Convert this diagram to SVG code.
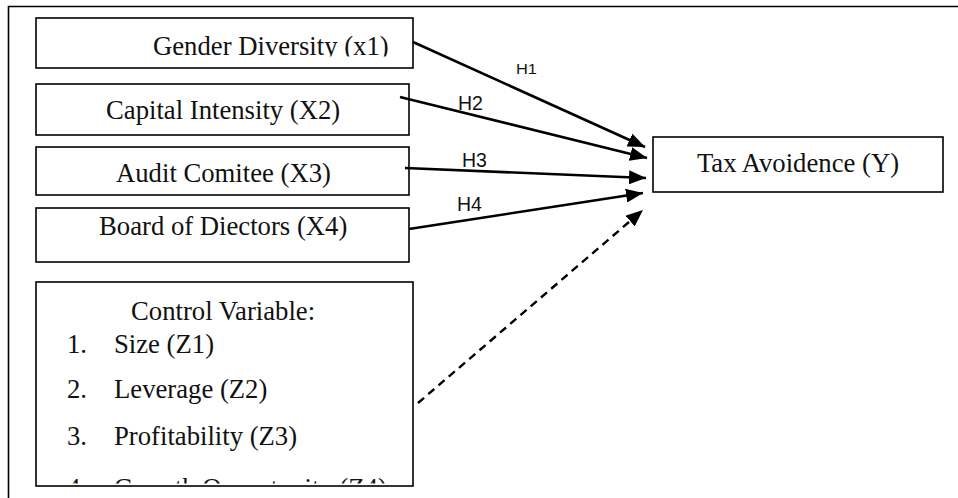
<svg xmlns="http://www.w3.org/2000/svg" width="958" height="498" viewBox="0 0 958 498">
<style>
.box{fill:#fff;stroke:#000;stroke-width:1.6}
.t{font-family:"Liberation Serif","Times New Roman",serif;font-size:26.7px;fill:#111}
.h{font-family:"Liberation Sans",Arial,sans-serif;font-size:19.5px;fill:#111}
.c{stroke:#000;stroke-width:2.6;fill:none}
.d{stroke:#000;stroke-width:2.4;fill:none;stroke-dasharray:8 5.5}
.frame{stroke:#000;stroke-width:1.6;fill:none}
</style>
<defs>
<marker id="ah" markerUnits="userSpaceOnUse" markerWidth="18" markerHeight="14" refX="17" refY="7" orient="auto">
<path d="M0,0 L17,7 L0,14 z" fill="#000"/>
</marker>
<clipPath id="cg"><rect x="36" y="18" width="377" height="38.5"/></clipPath>
<clipPath id="cc"><rect x="36" y="282" width="377" height="201.5"/></clipPath>
</defs>
<rect width="958" height="498" fill="#fff"/>
<path class="frame" d="M8.5,498 L8.5,6.5 L958,6.5"/>
<g id="gender">
<rect class="box" x="36" y="18" width="377" height="50"/>
<text class="t" x="153" y="55" clip-path="url(#cg)">Gender Diversity (x1)</text>
</g>
<g id="capital">
<rect class="box" x="36" y="84" width="373" height="51"/>
<text class="t" x="106" y="119">Capital Intensity (X2)</text>
</g>
<g id="audit">
<rect class="box" x="36" y="147" width="373" height="48"/>
<text class="t" x="116" y="182">Audit Comitee (X3)</text>
</g>
<g id="board">
<rect class="box" x="36" y="208" width="373" height="54"/>
<text class="t" x="99" y="235">Board of Diectors (X4)</text>
</g>
<g id="control">
<rect class="box" x="36" y="282" width="377" height="204"/>
<g clip-path="url(#cc)">
<text class="t" x="131" y="320">Control Variable:</text>
<text class="t" x="67" y="353">1.</text><text class="t" x="114" y="353">Size (Z1)</text>
<text class="t" x="67" y="398">2.</text><text class="t" x="114" y="398">Leverage (Z2)</text>
<text class="t" x="67" y="445">3.</text><text class="t" x="114" y="445">Profitability (Z3)</text>
<text class="t" x="67" y="497">4.</text><text class="t" x="114" y="497">Growth Opportunity (Z4)</text>
</g>
</g>
<g id="tax">
<rect class="box" x="653" y="137" width="290" height="55"/>
<text class="t" x="798" y="172" text-anchor="middle">Tax Avoidence (Y)</text>
</g>
<g id="connectors">
<line class="c" x1="413" y1="42" x2="645" y2="147" marker-end="url(#ah)"/>
<line class="c" x1="400" y1="97" x2="647" y2="158" marker-end="url(#ah)"/>
<line class="c" x1="405" y1="168" x2="646" y2="178" marker-end="url(#ah)"/>
<line class="c" x1="409" y1="229" x2="643" y2="193" marker-end="url(#ah)"/>
<line class="d" x1="418" y1="403" x2="643" y2="210" marker-end="url(#ah)"/>
<text class="h" x="516" y="73.5" style="font-size:14px" textLength="21" lengthAdjust="spacingAndGlyphs">H1</text>
<text class="h" x="458" y="110">H2</text>
<text class="h" x="462" y="167">H3</text>
<text class="h" x="457" y="211">H4</text>
</g>
</svg>
